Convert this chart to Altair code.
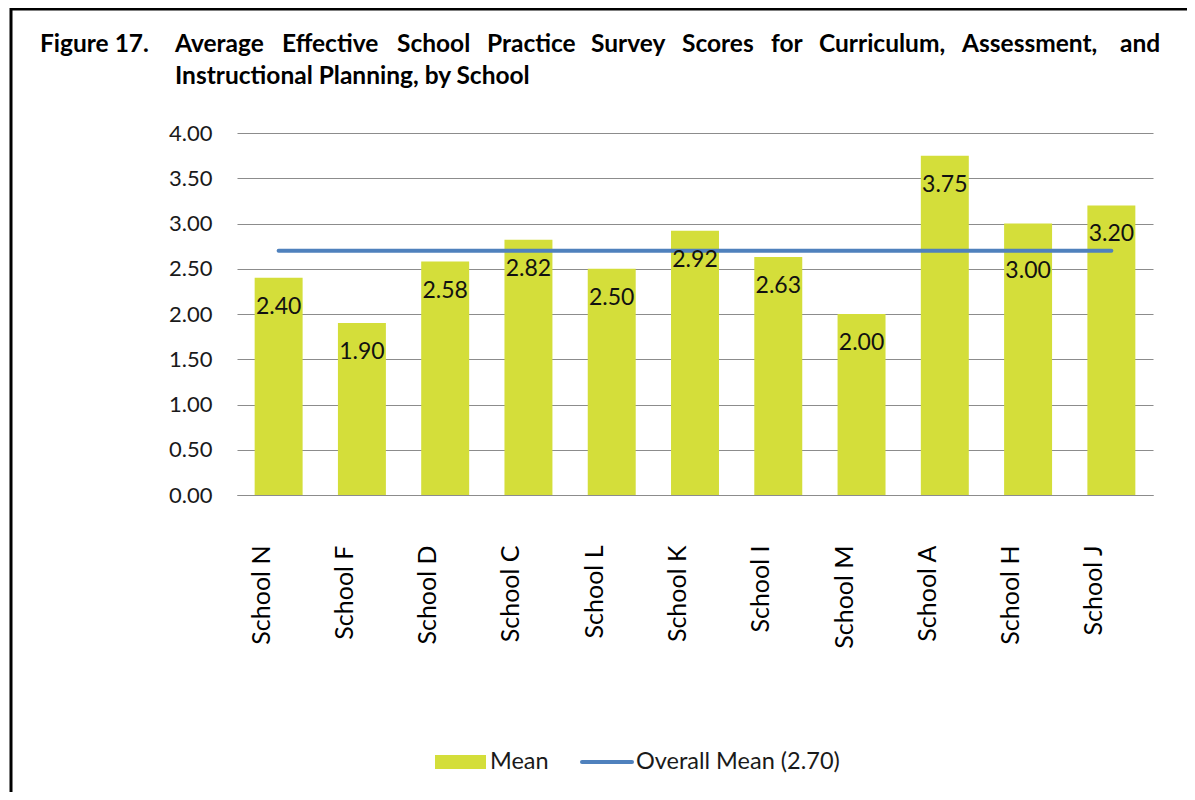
import altair as alt
import pandas as pd

schools = ["School N", "School F", "School D", "School C", "School L", "School K",
           "School I", "School M", "School A", "School H", "School J"]
means = [2.40, 1.90, 2.58, 2.82, 2.50, 2.92, 2.63, 2.00, 3.75, 3.00, 3.20]
overall_mean = 2.70

title_label = "Figure 17."
title_line1 = ["Average", "Effective", "School", "Practice", "Survey", "Scores",
               "for", "Curriculum,", "Assessment,", "and"]
title_line2 = "Instructional Planning, by School"
legend_labels = ["Mean", "Overall Mean (2.70)"]

df = pd.DataFrame({"school": schools, "mean": means,
                   "overall": [overall_mean] * len(schools)})

FONT = "Lato"
BAR = "#d4de3a"
LINE = "#4f81bd"
W, H = 916, 362

xenc = alt.X("school:N", sort=schools, title=None,
             scale=alt.Scale(paddingInner=0.424, paddingOuter=0.212),
             axis=alt.Axis(labelAngle=270, labelFontSize=25, labelPadding=50,
                           labelOffset=-17, labelColor="#000000", ticks=False,
                           domainColor="#8c8c8c", domainWidth=1.2, labelFont=FONT))
yenc = alt.Y("mean:Q", title=None,
             scale=alt.Scale(domain=[0, 4], nice=False),
             axis=alt.Axis(values=[0, 0.5, 1, 1.5, 2, 2.5, 3, 3.5, 4], format=".2f",
                           labelFontSize=22, labelPadding=25, labelColor="#1a1a1a",
                           ticks=False, domain=False, grid=True, gridColor="#8c8c8c",
                           gridWidth=1.2, labelFont=FONT))

base = alt.Chart(df)
bars = base.mark_bar(color=BAR).encode(x=xenc, y=yenc)

labels = base.mark_text(baseline="middle", align="center", dy=29, fontSize=23,
                        font=FONT, color="#111111").encode(
    x=alt.X("school:N", sort=schools),
    y=alt.Y("mean:Q"),
    text=alt.Text("mean:Q", format=".2f"),
).transform_filter(alt.datum.school != "School H")

labels_h = base.mark_text(baseline="middle", align="center", dy=47, fontSize=23,
                          font=FONT, color="#111111").encode(
    x=alt.X("school:N", sort=schools),
    y=alt.Y("mean:Q"),
    text=alt.Text("mean:Q", format=".2f"),
).transform_filter(alt.datum.school == "School H")

line = base.mark_line(color=LINE, strokeWidth=4, strokeCap="round").encode(
    x=alt.X("school:N", sort=schools),
    y=alt.Y("overall:Q"),
)

one = alt.Data(values=[{"k": 1}])


def txt(s, x, y, size, bold=False, align="left"):
    return alt.Chart(one).mark_text(
        text=s, fontSize=size, font=FONT, fontWeight="bold" if bold else "normal",
        align=align, baseline="middle", color="#000000"
    ).encode(x=alt.value(x), y=alt.value(y))


# border
border_top = alt.Chart(one).mark_rule(color="#000000", strokeWidth=3).encode(
    x=alt.value(-227), x2=alt.value(960), y=alt.value(-124))
border_left = alt.Chart(one).mark_rule(color="#000000", strokeWidth=3).encode(
    x=alt.value(-226), y=alt.value(-126), y2=alt.value(700))

# title (justified first line)
word_x = [175, 282, 397, 487, 591, 682, 771, 819, 962, 1120]
title_layers = [txt(title_label, 40 - 237, -88, 24.5, bold=True)]
for w, xx in zip(title_line1, word_x):
    title_layers.append(txt(w, xx - 237, -88, 24.5, bold=True))
title_layers.append(txt(title_line2, 175 - 237, -56, 24.5, bold=True))

# legend
leg_rect = alt.Chart(one).mark_rect(color=BAR).encode(
    x=alt.value(435 - 237), x2=alt.value(486 - 237),
    y=alt.value(755 - 133), y2=alt.value(769 - 133))
leg_line = alt.Chart(one).mark_rule(color=LINE, strokeWidth=4, strokeCap="round").encode(
    x=alt.value(582 - 237), x2=alt.value(632 - 237), y=alt.value(762 - 133))
leg_t1 = alt.Chart(one).mark_text(text=legend_labels[0], fontSize=23.5, font=FONT,
                                  align="left", baseline="middle", color="#1a1a1a").encode(
    x=alt.value(490 - 237), y=alt.value(762 - 133))
leg_t2 = alt.Chart(one).mark_text(text=legend_labels[1], fontSize=23.5, font=FONT,
                                  align="left", baseline="middle", color="#1a1a1a").encode(
    x=alt.value(636 - 237), y=alt.value(762 - 133))

chart = alt.layer(
    bars, line, labels, labels_h,
    border_top, border_left, *title_layers,
    leg_rect, leg_line, leg_t1, leg_t2,
).properties(
    width=W, height=H,
    autosize=alt.AutoSizeParams(type="none"),
    padding={"left": 229, "top": 125, "right": 34, "bottom": 297},
    background="#ffffff",
).configure_view(stroke=None).configure_axis(labelFont=FONT)

chart.save("out.html", embed_options={"renderer": "svg", "actions": False})
